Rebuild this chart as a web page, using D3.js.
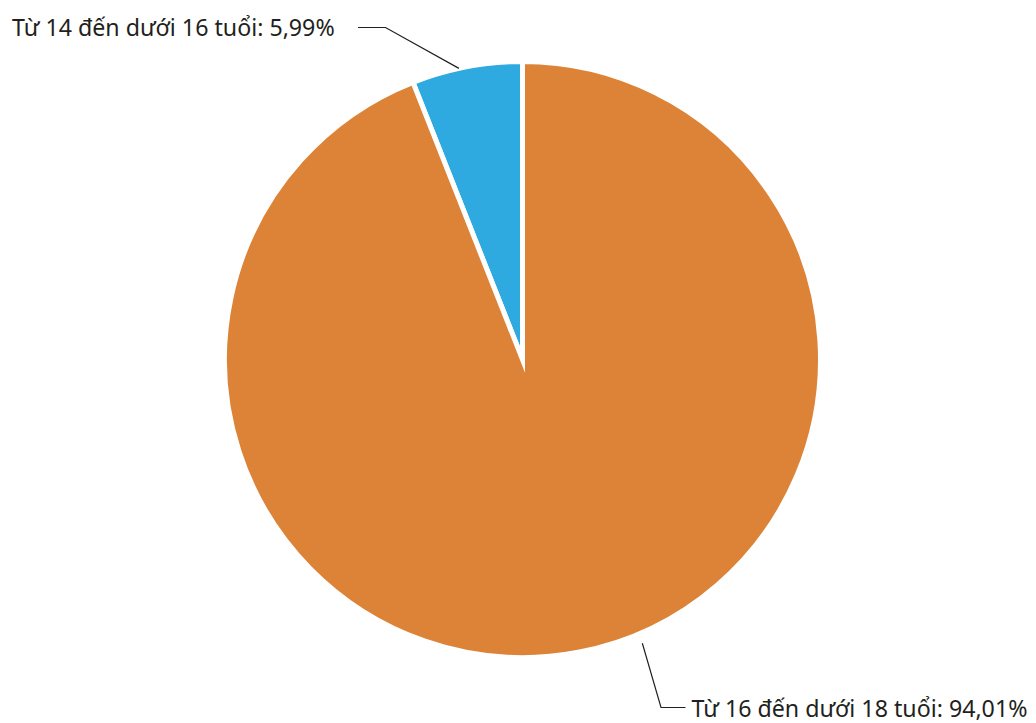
<!DOCTYPE html>
<html>
<head>
<meta charset="utf-8">
<script src="https://cdn.jsdelivr.net/npm/d3@7"></script>
<style>
  body { margin: 0; background: #fff; }
  text { font-family: "Noto Sans", sans-serif; fill: #231f20; }
</style>
</head>
<body>
<svg id="chart" width="1036" height="723"></svg>
<script>
var categories = ["Từ 14 đến dưới 16 tuổi", "Từ 16 đến dưới 18 tuổi"];
var values = [5.99, 94.01];
var colors = ["#2eaae1", "#dc8337"];

var width = 1036, height = 723;
var cx = 522.5, cy = 359.5, radius = 298;

var svg = d3.select("#chart");
var g = svg.append("g").attr("transform", "translate(" + cx + "," + cy + ")");

var total = d3.sum(values);
var start = -2 * Math.PI * values[0] / total;
var pie = d3.pie().sort(null).startAngle(start).endAngle(start + 2 * Math.PI);
var arc = d3.arc().innerRadius(0).outerRadius(radius);
var arcs = pie(values);

g.selectAll("path.slice")
    .data(arcs)
    .enter().append("path")
    .attr("class", "slice")
    .attr("d", arc)
    .attr("fill", function (d, i) { return colors[i]; })
    .attr("stroke", "#fff")
    .attr("stroke-width", 5)
    .attr("stroke-linejoin", "miter")
    .attr("stroke-miterlimit", 10);

var vi = d3.formatLocale({decimal: ",", thousands: ".", grouping: [3], currency: ["", "đ"]});
var fmt = vi.format(".2f");

// label layout: angle on the rim where the leader starts, elbow and text position
var labels = [
    {angle: -0.215, rim: radius, elbow: [-137, -332], end: [-164.5, -332], tx: -510.5, ty: -324, anchor: "start"},
    {angle: 2.742, rim: radius + 10, elbow: [138.5, 348], end: [163, 348], tx: 169, ty: 357, anchor: "start"}
];

labels.forEach(function (l, i) {
    var p0 = [Math.sin(l.angle) * l.rim, -Math.cos(l.angle) * l.rim];
    g.append("polyline")
        .attr("points", [p0, l.elbow, l.end].map(function (p) { return p.join(","); }).join(" "))
        .attr("fill", "none")
        .attr("stroke", "#231f20")
        .attr("stroke-width", 1.2);
    g.append("text")
        .attr("x", l.tx)
        .attr("y", l.ty)
        .attr("text-anchor", l.anchor)
        .style("font-size", "23.2px")
        .text(categories[i] + ": " + fmt(values[i]) + "%");
});
</script>
</body>
</html>
